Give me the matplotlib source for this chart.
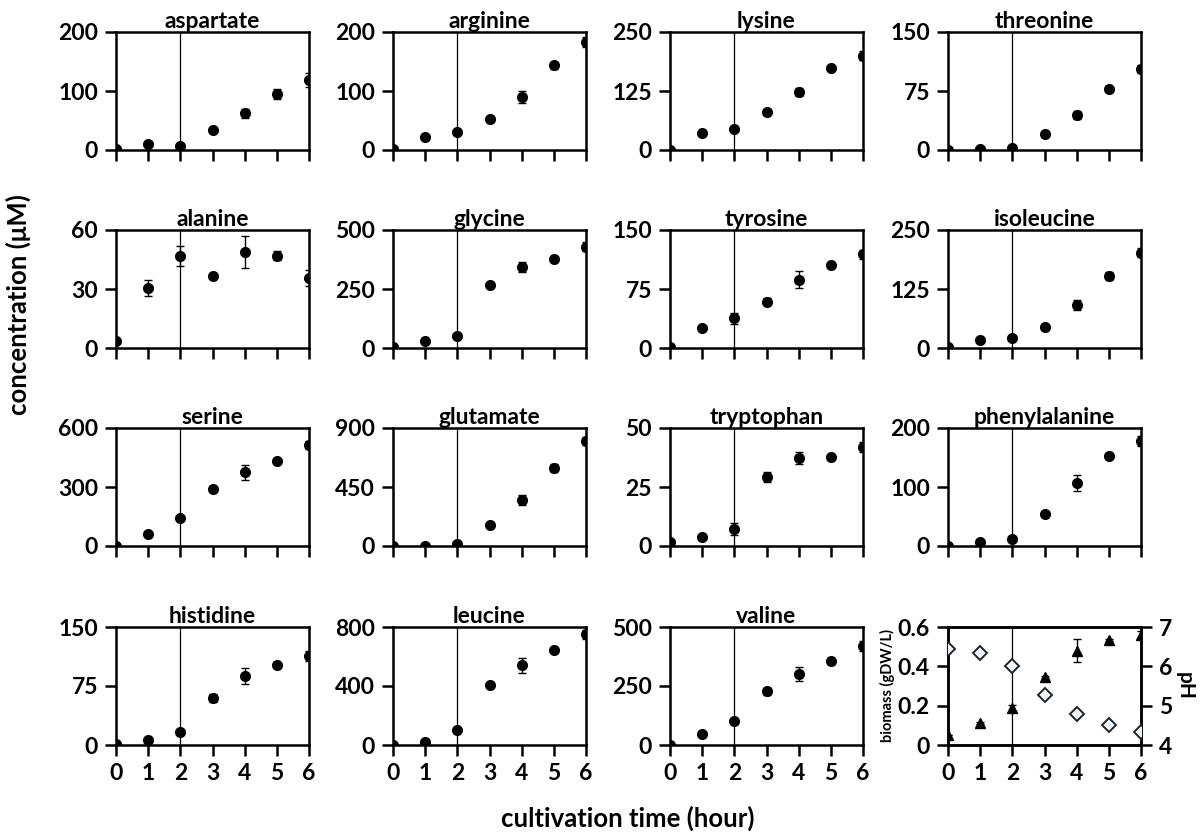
import matplotlib.pyplot as plt

plt.rcParams['font.family'] = ['Lato', 'DejaVu Sans']
plt.rcParams['font.weight'] = 'bold'

hours = [0, 1, 2, 3, 4, 5, 6]

# concentrations (uM) and error bars
aspartate = [1, 10, 7, 34, 62, 95, 118]
aspartate_err = [0, 0, 0, 2, 8, 8, 12]
arginine = [1, 22, 30, 53, 90, 144, 183]
arginine_err = [0, 0, 0, 2, 10, 6, 8]
lysine = [1, 37, 45, 80, 123, 174, 200]
lysine_err = [0, 0, 0, 2, 9, 3, 10]
threonine = [0.5, 1.5, 3, 20, 44, 77, 103]
threonine_err = [0, 0, 0, 1, 5, 3, 5]
alanine = [3.7, 30.6, 46.9, 36.8, 48.8, 47, 35.6]
alanine_err = [0, 4, 5, 0.5, 8, 2.5, 4]
glycine = [3, 28, 49, 269, 344, 378, 430]
glycine_err = [0, 0, 0, 5, 20, 5, 20]
tyrosine = [1, 25.5, 38, 59, 87, 105, 119]
tyrosine_err = [0, 0, 7, 4, 11, 2, 6]
isoleucine = [2, 16, 22, 43.5, 91.5, 153, 202]
isoleucine_err = [0, 0, 0, 2, 10, 8, 10]
serine = [2, 63, 140, 289, 374, 430, 513]
serine_err = [0, 0, 0, 5, 40, 5, 20]
glutamate = [0, 2, 18, 161, 350, 594, 803]
glutamate_err = [0, 0, 0, 10, 40, 30, 30]
tryptophan = [1.7, 3.8, 7.3, 29.3, 37.3, 37.7, 42]
tryptophan_err = [0, 0, 2.5, 2, 2.5, 0.5, 2]
phenylalanine = [0, 7, 12, 55, 107, 153, 178]
phenylalanine_err = [0, 0, 0, 5, 13, 2, 8]
histidine = [1, 6, 16, 60, 88, 102, 113]
histidine_err = [0, 0, 0, 5, 10, 2, 6]
leucine = [2, 20, 100, 410, 540, 645, 750]
leucine_err = [0, 0, 10, 10, 50, 5, 30]
valine = [2, 45, 100, 227, 302, 357, 420]
valine_err = [0, 0, 10, 15, 30, 5, 20]

biomass = [0.05, 0.11, 0.19, 0.345, 0.48, 0.535, 0.56]
biomass_err = [0, 0.005, 0.015, 0.005, 0.06, 0.005, 0.02]
ph = [6.45, 6.35, 6.0, 5.27, 4.8, 4.5, 4.33]

names = ['aspartate', 'arginine', 'lysine', 'threonine',
         'alanine', 'glycine', 'tyrosine', 'isoleucine',
         'serine', 'glutamate', 'tryptophan', 'phenylalanine',
         'histidine', 'leucine', 'valine']
series = [aspartate, arginine, lysine, threonine,
          alanine, glycine, tyrosine, isoleucine,
          serine, glutamate, tryptophan, phenylalanine,
          histidine, leucine, valine]
errors = [aspartate_err, arginine_err, lysine_err, threonine_err,
          alanine_err, glycine_err, tyrosine_err, isoleucine_err,
          serine_err, glutamate_err, tryptophan_err, phenylalanine_err,
          histidine_err, leucine_err, valine_err]
ymaxes = [200, 200, 250, 150, 60, 500, 150, 250,
          600, 900, 50, 200, 150, 800, 500]

W, H = 1204, 834
fig = plt.figure(figsize=(W / 100, H / 100), dpi=100)

lefts = [116, 393, 670, 948]
tops = [32, 230, 428, 627]
aw, ah = 193, 118
FS = 16.5
bold = dict(fontsize=FS, fontweight='bold')


def make_ax(i):
    r, c = divmod(i, 4)
    ax = fig.add_axes([lefts[c] / W, 1 - (tops[r] + ah) / H, aw / W, ah / H])
    for s in ax.spines.values():
        s.set_linewidth(1.8)
    ax.tick_params(direction='out', length=8, width=1.8, pad=5)
    ax.set_xlim(0, 6)
    ax.set_xticks(hours)
    if r < 3:
        ax.set_xticklabels([])
    else:
        ax.set_xticklabels([str(h) for h in hours], **bold)
    ax.axvline(2, color='black', lw=0.9, zorder=1)
    return ax


for i, name in enumerate(names):
    ax = make_ax(i)
    ym = ymaxes[i]
    ax.errorbar(hours, series[i], yerr=errors[i], fmt='o', color='black',
                ms=7, capsize=3, elinewidth=1, capthick=1, zorder=3)
    ax.set_ylim(0, ym)
    ticks = [0, ym / 2, ym]
    ax.set_yticks(ticks)
    ax.set_yticklabels(['%g' % t for t in ticks], **bold)
    ax.set_title(name, fontsize=FS, fontweight='bold', pad=0)

# biomass / pH panel
ax = make_ax(15)
ax.errorbar(hours, biomass, yerr=biomass_err, fmt='^', color='black',
            ms=6.5, capsize=3, elinewidth=1, capthick=1, zorder=3)
ax.set_ylim(0, 0.6)
ax.set_yticks([0, 0.2, 0.4, 0.6])
ax.set_yticklabels(['0', '0.2', '0.4', '0.6'], **bold)
ax.set_ylabel('biomass (gDW/L)', fontsize=10.5, fontweight='bold', labelpad=2)
ax2 = ax.twinx()
ax2.plot(hours, ph, 'D', ms=7.5, mfc='#eef5fc', mec='#222222', mew=1.4, zorder=3)
ax2.set_ylim(4, 7)
ax2.set_yticks([4, 5, 6, 7])
ax2.set_yticklabels(['4', '5', '6', '7'], **bold)
ax2.tick_params(direction='out', length=8, width=1.8, pad=5)
for s in ax2.spines.values():
    s.set_linewidth(1.8)
ax2.set_ylabel('pH', fontsize=15, fontweight='bold', rotation=270, labelpad=16)

fig.text(18 / W, 1 - 305 / H, 'concentration (μM)', rotation=90,
         ha='center', va='center', fontsize=18.5, fontweight='bold')
fig.text(628 / W, 1 - 818 / H, 'cultivation time (hour)',
         ha='center', va='center', fontsize=18.5, fontweight='bold')

fig.savefig('out.png', dpi=100)
